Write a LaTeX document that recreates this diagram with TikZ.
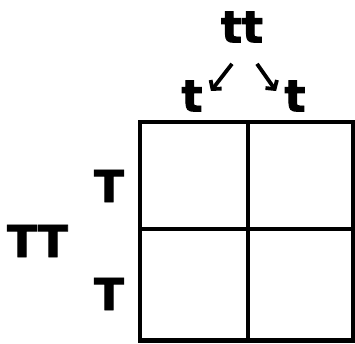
\documentclass[tikz,border=0pt]{standalone}
\usepackage{fontspec}
\setmainfont{DejaVu Sans}
\newfontfamily\allelefont{DejaVu Sans Bold}[FakeBold=2]
\usetikzlibrary{arrows.meta}
\begin{document}
\begin{tikzpicture}[x=1pt,y=-1pt,
  thick,allele node/.style={inner sep=0pt,font=\fontsize{44}{44}\allelefont},
  cross arrow/.style={line width=3.8pt,-{Straight Barb[length=6pt,width=14pt,line width=3.8pt]}},
  grid line/.style={line width=4.8pt}]

  \useasboundingbox (0,0) rectangle (355,343);

  \node[allele node] (tt) at (242,27) {tt};
  \node[allele node] (t1) at (192,96) {t};
  \node[allele node] (t2) at (295,96) {t};
  \node[allele node] (TT) at (37.5,241) {TT};
  \node[allele node] (T1) at (109,186) {T};
  \node[allele node] (T2) at (109,294) {T};

  \coordinate (nw) at (140,122);
  \coordinate (se) at (353,340.5);

  \draw[grid line] (nw) rectangle (se);
  \draw[grid line] (248,122) -- (248,340.5);
  \draw[grid line] (140,229) -- (353,229);

  \draw[cross arrow] ([shift={(-10,21)}]tt.south) -- ([shift={(8,-5)}]t1.east);
  \draw[cross arrow] ([shift={(15,21)}]tt.south) -- ([shift={(-8,-5)}]t2.west);
\end{tikzpicture}
\end{document}
